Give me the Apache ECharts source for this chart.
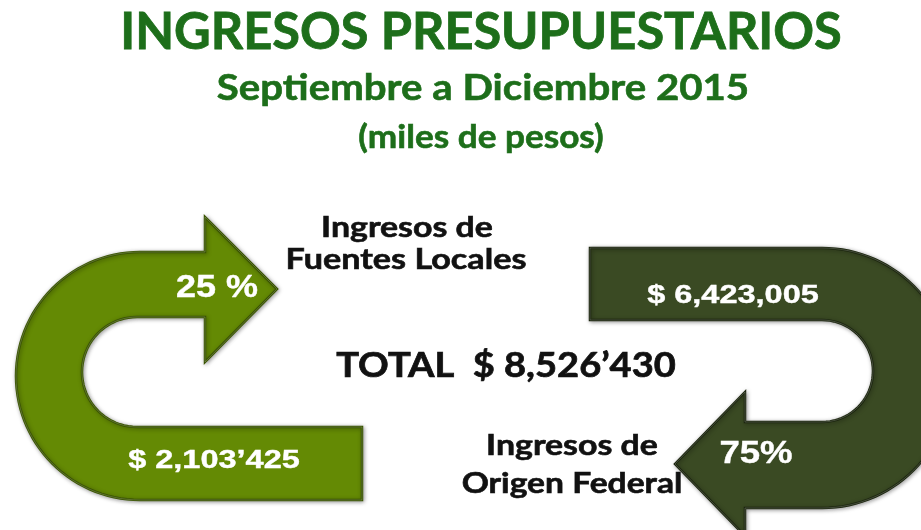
<!DOCTYPE html>
<html>
<head>
<meta charset="utf-8">
<script src="https://cdn.jsdelivr.net/npm/echarts@6/dist/echarts.min.js"></script>
<style>html,body{margin:0;padding:0;background:#fff}#c{width:921px;height:530px}</style>
</head>
<body>
<div id="c"></div>
<script>
// ---- data ----
var titleLines = ['INGRESOS PRESUPUESTARIOS', 'Septiembre a Diciembre 2015', '(miles de pesos)'];
var categories = [['Ingresos de', 'Fuentes Locales'], ['Ingresos de', 'Origen Federal']];
var values = [2103425, 6423005];           // miles de pesos
var valueLabels = ['$ 2,103\u2019425', '$ 6,423,005'];
var percentLabels = ['25 %', '75%'];
var totalLabel = 'TOTAL  $ 8,526\u2019430';   // = values[0] + values[1]
var colors = ['#648a04', '#3a4a23'];
var strokes = ['#3a5402', '#1c260f'];

// ---- shape helpers ----
function arc(cx, cy, r, a0, a1, n) {
  var pts = [];
  for (var i = 0; i <= n; i++) {
    var a = a0 + (a1 - a0) * i / n;
    pts.push([cx + r * Math.cos(a), cy + r * Math.sin(a)]);
  }
  return pts;
}
function leftArrow() {
  var p = [[362, 427], [362, 500]];
  p = p.concat(arc(140, 376, 124, Math.PI / 2, Math.PI * 1.5, 60));
  p.push([205, 252], [205, 217], [277, 289], [205, 362], [205, 317]);
  p = p.concat(arc(137, 372, 55, Math.PI * 1.5, Math.PI / 2, 40));
  return p;
}
function rightArrow() {
  var p = [[590, 248]];
  p = p.concat(arc(822, 378, 130, -Math.PI / 2, Math.PI / 2, 60));
  p.push([745, 508], [745, 536], [675, 464], [745, 392], [745, 422]);
  p = p.concat(arc(822, 371, 51, Math.PI / 2, -Math.PI / 2, 40));
  p.push([590, 320]);
  return p;
}
function txt(x, y, s, size, color, family, sx, heavy) {
  return {
    type: 'text', x: x, y: y, z: 10, scaleX: sx || 1,
    style: {
      text: s, fill: color, font: 'bold ' + size + 'px ' + family, align: 'center', verticalAlign: 'middle',
      stroke: color, lineWidth: heavy || 0
    }
  };
}

var chart = echarts.init(document.getElementById('c'));
var lato = 'Lato, "Open Sans", sans-serif';
var arial = '"Liberation Sans", Arial, sans-serif';
var green = '#1d6e1a';
var shapes = [leftArrow(), rightArrow()];
var graphics = [];
shapes.forEach(function (pts, i) {
  graphics.push({
    type: 'polygon', z: 1,
    shape: { points: pts },
    style: {
      fill: colors[i], stroke: strokes[i], lineWidth: 2.5,
      shadowBlur: 4, shadowColor: 'rgba(0,0,0,0.35)', shadowOffsetX: 1, shadowOffsetY: 1
    }
  });
  graphics.push({
    type: 'polygon', z: 2, silent: true,
    shape: { points: pts },
    style: { fill: 'none', stroke: 'rgba(255,255,255,0.18)', lineWidth: 1 }
  });
});
graphics.push(
  txt(481, 33, titleLines[0], 51, green, lato, 0.99, 0.8),
  txt(483, 88, titleLines[1], 37, green, lato, 1.086, 0.6),
  txt(481, 137, titleLines[2], 33, green, lato, 1.065, 0.6),
  txt(407, 228, categories[0][0], 28, '#111', lato, 1.21, 0.6),
  txt(406, 260, categories[0][1], 28, '#111', lato, 1.22, 0.6),
  txt(572, 446, categories[1][0], 28, '#111', lato, 1.21, 0.6),
  txt(572, 484, categories[1][1], 28, '#111', lato, 1.2, 0.6),
  txt(506, 366, totalLabel, 35, '#111', lato, 1.087, 0.7),
  txt(217, 288, percentLabels[0], 31, '#fff', arial, 1.16, 0.4),
  txt(214, 461, valueLabels[0], 25, '#fff', arial, 1.3, 0.4),
  txt(733, 296, valueLabels[1], 25, '#fff', arial, 1.3, 0.4),
  txt(756, 454, percentLabels[1], 31, '#fff', arial, 1.18, 0.4)
);

chart.setOption({
  backgroundColor: '#ffffff',
  animation: false,
  graphic: graphics
});
</script>
</body>
</html>
